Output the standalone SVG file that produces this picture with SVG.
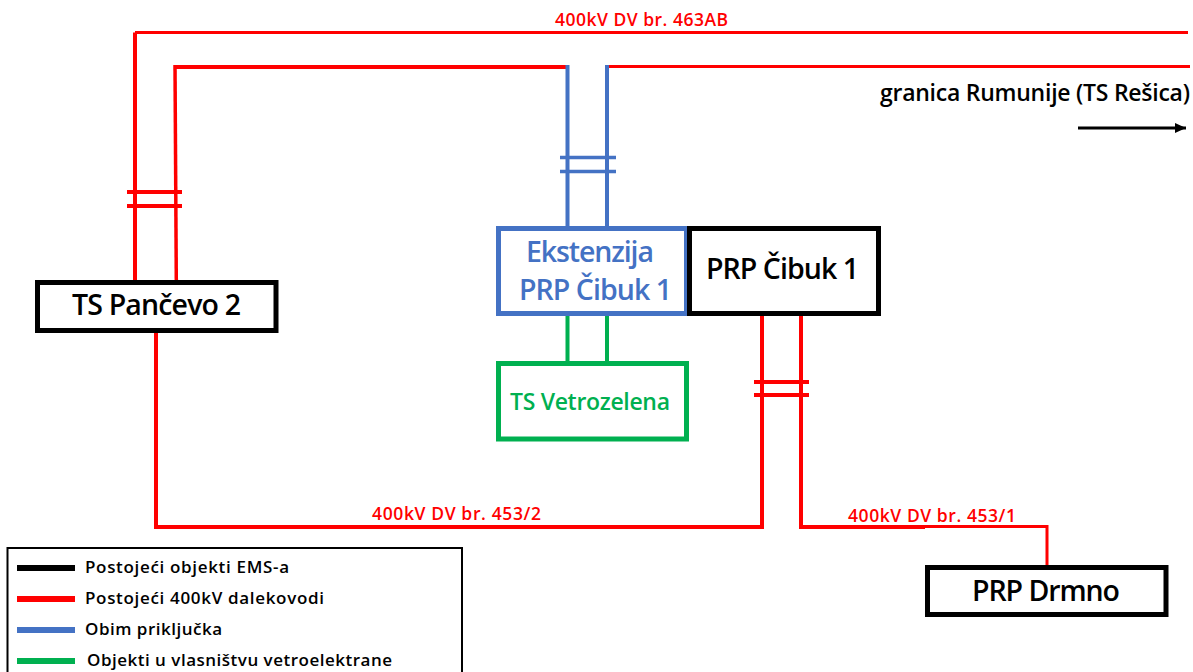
<svg xmlns="http://www.w3.org/2000/svg" width="1193" height="672" viewBox="0 0 1193 672">
<style>
text{font-family:"Open Sans","Noto Sans","Liberation Sans",sans-serif;font-weight:600}
.box{fill:#fff;stroke-width:5}
.k{stroke:#000}.b{stroke:#4472C4}.g{stroke:#00B050}
.w{fill:none;stroke:#f00;stroke-width:4}
.t{fill:none;stroke:#f00;stroke-width:3}
.bl{fill:none;stroke:#4472C4;stroke-width:4}
.gl{fill:none;stroke:#00B050;stroke-width:4}
.lab{fill:#f00;font-size:17.500px}
.big{fill:#000;font-size:28.500px}
.leg{fill:#000;font-size:17px}
.lk{stroke-width:6}
</style>
<defs><marker id="ah" markerWidth="12" markerHeight="12" refX="11" refY="6" markerUnits="userSpaceOnUse" orient="auto"><path d="M0 1L11 6L0 11Z" fill="#000"/></marker></defs>
<rect width="1193" height="672" fill="#fff"/>
<g id="connectors">
<path class="t" d="M135 32.500H1188"/>
<path class="w" d="M135 281V32.500"/>
<path class="w" d="M566 67H175"/>
<path d="M175 65L176.300 281" fill="none" stroke="#f00" stroke-width="3.500"/>
<path class="t" d="M608 66.500H1190"/>
<path class="w" d="M127 192H182M127 206H182"/>
<path class="bl" d="M567.500 65V227M607 65V227"/>
<path class="bl" d="M560 157.500H616M560 171.500H616" style="stroke-width:3.500"/>
<path class="gl" d="M567.500 315V362M607 315V362"/>
<path class="w" d="M156 333V527H762V316"/>
<path class="w" d="M801 316V527H925"/>
<path class="t" d="M925 526.500H1047V566"/>
<path class="w" d="M754 382H809M754 395H809"/>
<path d="M1078 128H1186" stroke="#000" stroke-width="3" fill="none" marker-end="url(#ah)"/>
</g>
<g id="ts-pancevo-2"><rect class="box k" x="37.500" y="282.500" width="238.500" height="48"/><text class="big" x="72" y="315" textLength="169">TS Pančevo 2</text></g>
<g id="ekstenzija"><rect class="box b" x="498.500" y="228.500" width="188" height="85"/><text class="big" x="526" y="262" style="fill:#4472C4" textLength="128">Ekstenzija</text><text class="big" x="519" y="300" style="fill:#4472C4" textLength="153">PRP Čibuk 1</text></g>
<g id="prp-cibuk-1"><rect class="box k" x="689.500" y="228.500" width="189" height="85"/><text class="big" x="706" y="279" textLength="153">PRP Čibuk 1</text></g>
<g id="ts-vetrozelena"><rect class="box g" x="498.500" y="363.500" width="188" height="75.500"/><text x="510" y="410" style="fill:#00B050;font-size:23px" textLength="160">TS Vetrozelena</text></g>
<g id="prp-drmno"><rect class="box k" x="927.500" y="567.500" width="238.500" height="47"/><text class="big" x="972" y="601" textLength="148">PRP Drmno</text></g>
<g id="labels">
<text class="lab" x="555" y="26" textLength="173">400kV DV br. 463AB</text>
<text class="lab" x="372" y="520" textLength="169">400kV DV br. 453/2</text>
<text class="lab" x="848" y="521.500" textLength="168">400kV DV br. 453/1</text>
<text x="880" y="101" style="fill:#000;font-size:23px" textLength="310">granica Rumunije (TS Rešica)</text>
</g>
<g id="legend">
<rect x="7.500" y="548" width="454.500" height="130" fill="none" stroke="#000" stroke-width="2"/>
<path class="lk" stroke="#000" d="M17 568H75"/>
<path class="lk" stroke="#f00" d="M17 599H75"/>
<path class="lk" stroke="#4472C4" d="M17 630H75"/>
<path class="lk" stroke="#00B050" d="M17 661H75"/>
<text class="leg" x="85" y="573" textLength="204">Postojeći objekti EMS-a</text>
<text class="leg" x="85" y="604" textLength="239">Postojeći 400kV dalekovodi</text>
<text class="leg" x="85" y="635" textLength="137">Obim priključka</text>
<text class="leg" x="87" y="666" textLength="305">Objekti u vlasništvu vetroelektrane</text>
</g>
</svg>
